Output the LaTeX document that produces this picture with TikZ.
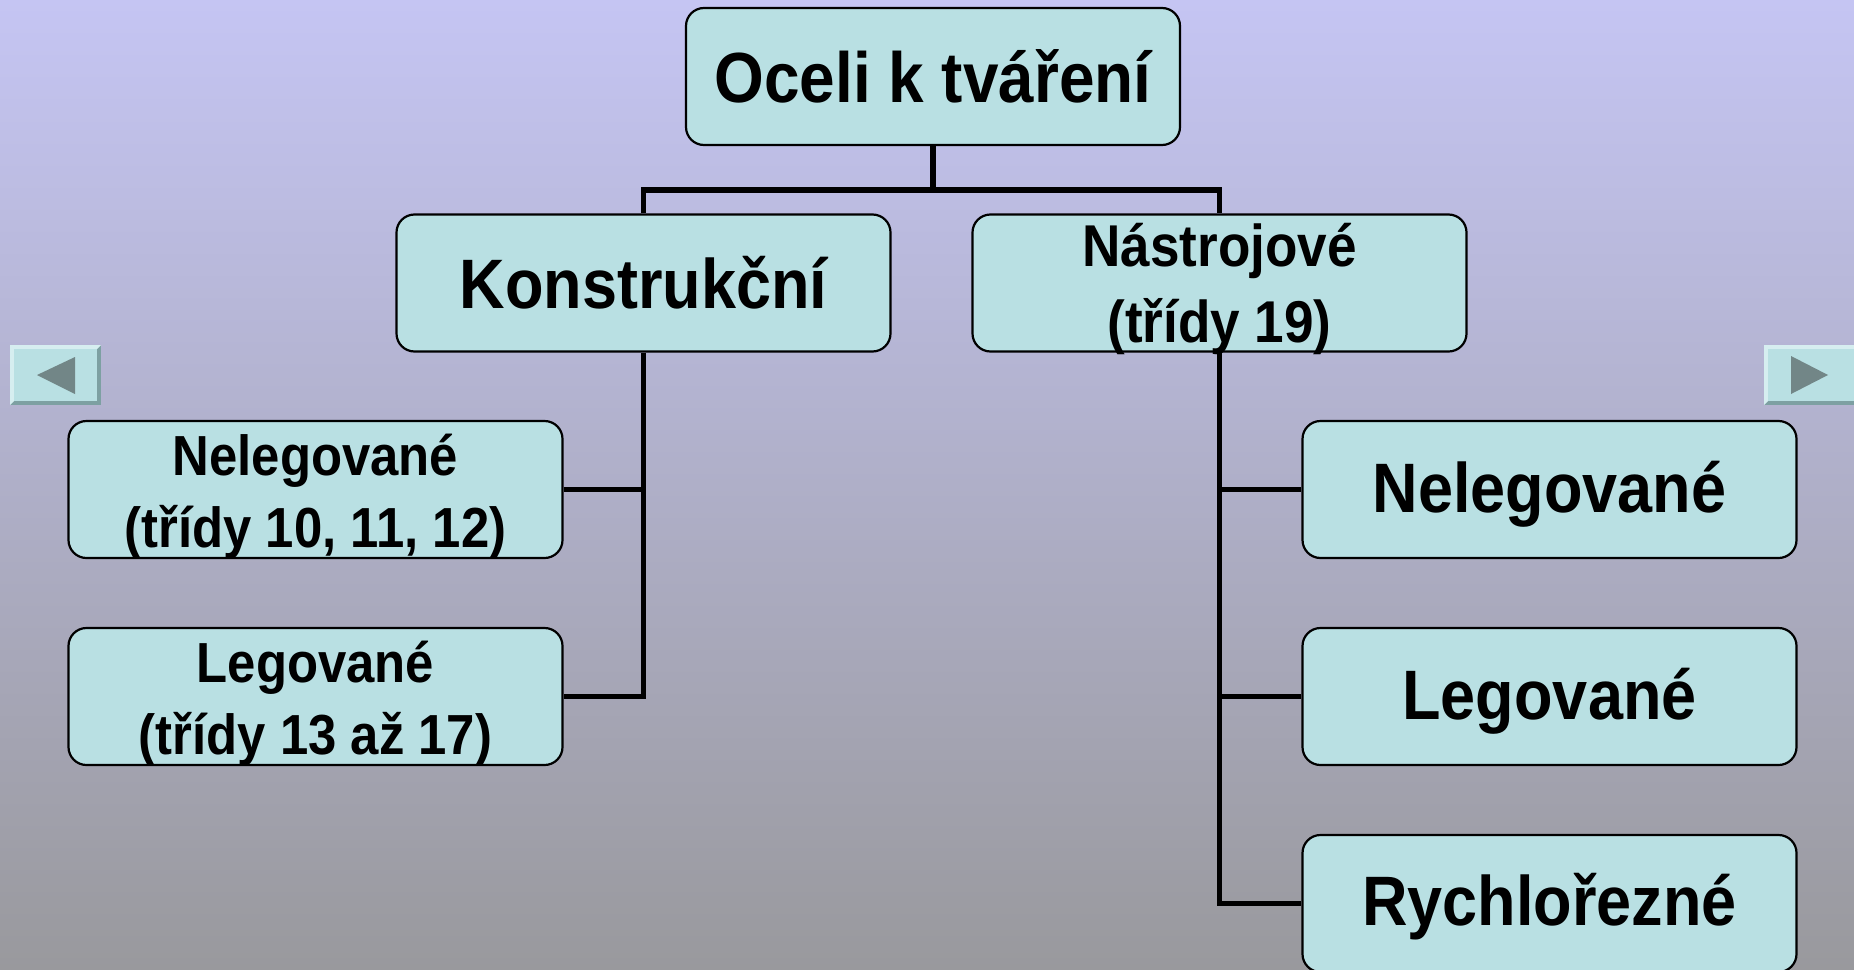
\documentclass[tikz,border=0pt]{standalone}
\usepackage{fontspec}
\setmainfont{Liberation Sans}[FakeStretch=0.9]
\pgfdeclarelayer{bg}
\pgfdeclarelayer{lines}
\pgfsetlayers{bg,lines,main}
\definecolor{boxfill}{RGB}{185,224,227}
\definecolor{bgtop}{RGB}{197,197,243}
\definecolor{bgbot}{RGB}{153,153,157}
\definecolor{btnlight}{RGB}{214,238,240}
\definecolor{btndark}{RGB}{125,160,162}
\definecolor{tri}{RGB}{114,134,135}
\newcommand\lowtext[2]{\raisebox{-#1}[\height][\depth]{\begin{tabular}{@{}c@{}}#2\end{tabular}}}
\newcommand\lowtwo[2]{\raisebox{-#1}[0pt][0pt]{\begin{tabular}{@{}c@{}}#2\end{tabular}}}
\tikzset{
  box/.style={draw=black, line width=2.2pt, fill=boxfill, rounded corners=18pt,
    minimum width=494pt, minimum height=137pt, inner sep=0pt, align=center,
    font=\bfseries},
  bigtext/.style={font=\fontsize{70}{80}\selectfont\bfseries},
  midtext/.style={font=\fontsize{59}{76}\selectfont\bfseries},
  smalltext/.style={font=\fontsize{56.5}{72}\selectfont\bfseries},
  conn/.style={draw=black, line width=5.5pt},
}
\begin{document}
\begin{tikzpicture}[x=1pt,y=-1pt]
\begin{pgfonlayer}{bg}
\shade[top color=bgtop, bottom color=bgbot] (0,0) rectangle (1854,969);
\end{pgfonlayer}
\useasboundingbox (0,0) rectangle (1854,969);

\node[box, font=\fontsize{71}{80}\selectfont\bfseries] (top) at (933,76.5) {Oceli k tváření};
\node[box, bigtext] (kon) at (643.5,283) {Konstrukční};
\node[box, midtext] (nas) at (1219.5,283) {\lowtwo{12.75pt}{Nástrojové\\(třídy 19)}};
\node[box, smalltext] (ln) at (315.5,489.5) {\lowtwo{14pt}{Nelegované\\(třídy 10, 11, 12)}};
\node[box, smalltext] (ll) at (315.5,696.5) {\lowtwo{14pt}{Legované\\(třídy 13 až 17)}};
\node[box, bigtext] (rn) at (1549.5,489.5) {\lowtext{7pt}{Nelegované}};
\node[box, bigtext] (rl) at (1549.5,696.5) {\lowtext{7pt}{Legované}};
\node[box, bigtext] (rr) at (1549.5,903.5) {\lowtext{6pt}{Rychlořezné}};

\coordinate (bus) at (933,190);
\begin{pgfonlayer}{lines}
\draw[conn] (top.south) -- (bus);
\draw[conn] (kon.north) |- (bus) -| (nas.north);
\draw[conn] (kon.south) |- (ll.east);
\draw[conn] (ln.east) -- (ln.east -| kon.south);
\draw[conn] (nas.south) |- (rr.west);
\draw[conn] (rn.west) -- (rn.west -| nas.south);
\draw[conn] (rl.west) -- (rl.west -| nas.south);
\end{pgfonlayer}

% navigation buttons
\fill[btndark] (10,345) rectangle (101,405);
\fill[btnlight] (10,345) -- (101,345) -- (97,349) -- (14,349) -- (14,401) -- (10,405) -- cycle;
\fill[boxfill] (14,349) rectangle (97,401);
\fill[tri] (37,375) -- (75,357) -- (75,394) -- cycle;

\fill[btndark] (1764,345) rectangle (1860,405);
\fill[btnlight] (1764,345) -- (1860,345) -- (1860,349) -- (1768,349) -- (1768,401) -- (1764,405) -- cycle;
\fill[boxfill] (1768,349) rectangle (1860,401);
\fill[tri] (1791,356) -- (1828,375) -- (1791,394) -- cycle;
\end{tikzpicture}
\end{document}
